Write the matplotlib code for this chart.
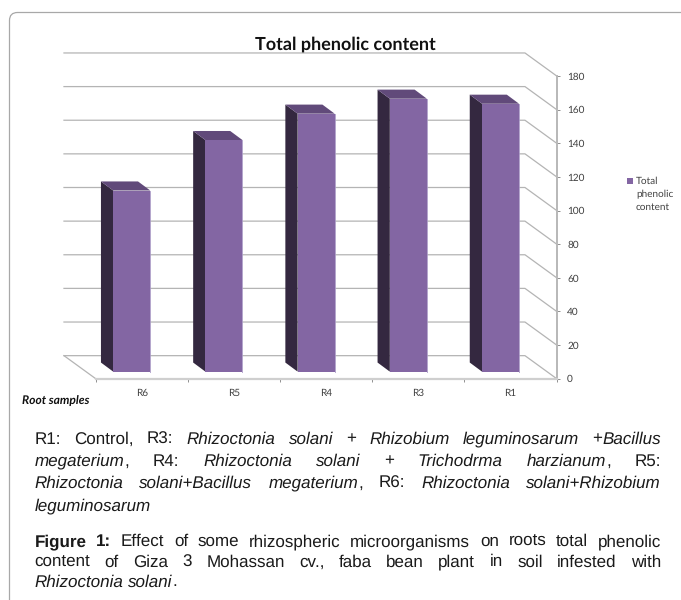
import re
import matplotlib
matplotlib.use("Agg")
import matplotlib.pyplot as plt
from matplotlib.patches import FancyBboxPatch, Polygon, Rectangle

plt.rcParams["text.hinting"] = "no_hinting"
plt.rcParams["text.hinting_factor"] = 1

samples = ["R6", "R5", "R4", "R3", "R1"]
phenolic = [107.7, 137.7, 153.4, 162.3, 159.3]
y_ticks = [0, 20, 40, 60, 80, 100, 120, 140, 160, 180]

# _x_ = italic, ^x^ = bold
caption_1 = [
    ("R1: Control, R3: _Rhizoctonia_ _solani_ + _Rhizobium_ _leguminosarum_ +_Bacillus_", True, 443.5),
    ("_megaterium_, R4: _Rhizoctonia_ _solani_ + _Trichodrma_ _harzianum_, R5:", True, 465.5),
    ("_Rhizoctonia_ _solani+Bacillus_ _megaterium_, R6: _Rhizoctonia_ _solani+Rhizobium_", True, 487.5),
    ("_leguminosarum_", False, 510),
]
caption_2 = [
    ("^Figure^ ^1:^ Effect of some rhizospheric microorganisms on roots total phenolic", True, 546),
    ("content of Giza 3 Mohassan cv., faba bean plant in soil infested with", True, 566.5),
    ("_Rhizoctonia_ _solani_.", False, 586.5),
]

purple = "#8366a3"
side_col = "#342840"
top_col = "#614a7a"
grid_col = "#b4b4b4"
lab_col = "#404040"

fig = plt.figure(figsize=(6.81, 6), dpi=100)

page = fig.add_axes([0, 0, 1, 1])
page.set_xlim(0, 681)
page.set_ylim(600, 0)
page.axis("off")
page.add_patch(FancyBboxPatch((9.5, 12.5), 720, 640, boxstyle="round,pad=0,rounding_size=8",
                              fc="white", ec="#a8a8a8", lw=0.9))

ax = fig.add_axes([95.7/681, 1-378.7/600, 461/681, 302.7/600])
ax.patch.set_alpha(0)
ax.set_xlim(0, 5)
ax.set_ylim(0, 180)

# depth of the fake 3d box, in data units
wall_dx = -0.344
wall_dy = 13.7
for v in y_ticks:
    ax.plot([wall_dx, 5+wall_dx, 5], [v+wall_dy, v+wall_dy, v], color=grid_col, lw=0.9,
            clip_on=False, zorder=1)
ax.plot([wall_dx, 0], [wall_dy, 0], color=grid_col, lw=0.9, clip_on=False, zorder=1)

# bars
bar_left = 0.19
bar_w = 0.402
bar_base = 4.2
dep_x = -0.133
dep_y = 5.4
for i, v in enumerate(phenolic):
    x0 = i+bar_left
    x1 = x0+bar_w
    top = bar_base+v
    ax.add_patch(Polygon([(x0, bar_base), (x0, top), (x0+dep_x, top+dep_y), (x0+dep_x, bar_base+dep_y)],
                         fc=side_col, ec="none", zorder=3))
    ax.add_patch(Polygon([(x0, top), (x1, top), (x1+dep_x, top+dep_y), (x0+dep_x, top+dep_y)],
                         fc=top_col, ec="none", zorder=3))
    ax.add_patch(Rectangle((x0, bar_base), bar_w, v, fc=purple, ec="none", zorder=3))
    ax.plot([x1, x1], [bar_base, top], color="#a796c4", lw=0.6, zorder=4)

for s in ["top", "left"]:
    ax.spines[s].set_visible(False)
ax.spines["right"].set_color("#b8b8b8")
ax.spines["right"].set_linewidth(1.4)
ax.spines["bottom"].set_color("#cfcfcf")
ax.spines["bottom"].set_linewidth(1.6)
ax.yaxis.tick_right()
ax.set_yticks(y_ticks)
ax.set_xticks(range(6))
ax.set_xticklabels([])
ax.set_xticks([i+0.5 for i in range(5)], minor=True)
ax.set_xticklabels(samples, minor=True, fontsize=7.5, family="Lato", color=lab_col)
ax.tick_params(axis="x", which="minor", length=0, pad=7)
ax.tick_params(axis="x", which="major", length=2.5, color="#909090", width=0.7)
ax.tick_params(axis="y", length=2.5, color="#909090", width=0.7, pad=5, labelcolor=lab_col, labelsize=7.4)
for t in ax.get_yticklabels():
    t.set_family("Lato")

page.text(345.5, 50, "Total phenolic content", fontsize=13.1, family="Lato", weight="bold",
          ha="center", va="baseline", color="#111111")
page.text(22, 404, "Root samples", fontsize=8.7, family="Lato", weight="bold", style="italic",
          ha="left", va="baseline", color="#111111")
page.add_patch(Rectangle((626.7, 178), 6, 6, fc=purple, ec="none"))
for line, yy in zip(["Total", "phenolic", "content"], [181, 194, 207]):
    page.text(636, yy, line, fontsize=7.4, family="Lato", ha="left", va="center", color=lab_col)

# justified caption, word by word
left = 34.5
right = 661
cap_size = 12.6
renderer = fig.canvas.get_renderer()


def make_word(chunk, x, y):
    used = 0
    for part in re.findall(r"_[^_]+_|\^[^^]+\^|[^_^]+", chunk):
        style, weight = "normal", "normal"
        if part[0] == "_":
            style = "italic"
            part = part[1:-1]
        elif part[0] == "^":
            weight = "bold"
            part = part[1:-1]
        t = page.text(x+used, y, part, fontsize=cap_size, family="Liberation Sans", style=style,
                      weight=weight, ha="left", va="baseline", color="#1a1a1a")
        used += t.get_window_extent(renderer).width
    return used


def draw_line(line, justify, y):
    words = line.split(" ")
    widths = []
    before = len(page.texts)
    for w in words:
        widths.append(make_word(w, 0, y))
    for t in list(page.texts)[before:]:
        t.remove()
    if justify:
        gap = (right-left-sum(widths))/(len(words)-1)
    else:
        gap = cap_size*100/72*0.278
    x = left
    for w, wd in zip(words, widths):
        make_word(w, x, y)
        x += wd+gap


for line, justify, y in caption_1+caption_2:
    draw_line(line, justify, y)

fig.savefig("out.png", dpi=100)
